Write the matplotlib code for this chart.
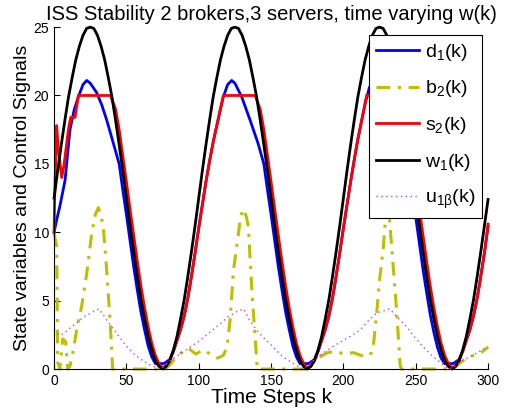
import matplotlib
matplotlib.use('Agg')
import matplotlib.pyplot as plt

# Data -----------------------------------------------------------------------------------------

k_w = [i * 2.5 for i in range(121)]
w1 = [12.5, 14.5, 16.4, 18.2, 19.9, 21.3, 22.6, 23.6, 24.4, 24.9, 25.0, 24.9, 24.4, 23.6, 22.6, 21.3,
      19.9, 18.2, 16.4, 14.5, 12.5, 10.5, 8.6, 6.8, 5.1, 3.7, 2.4, 1.4, 0.6, 0.2, 0.0, 0.2, 0.6, 1.4,
      2.4, 3.7, 5.1, 6.8, 8.6, 10.5,
      12.5, 14.5, 16.4, 18.2, 19.9, 21.3, 22.6, 23.6, 24.4, 24.9, 25.0, 24.9, 24.4, 23.6, 22.6, 21.3,
      19.9, 18.2, 16.4, 14.5, 12.5, 10.5, 8.6, 6.8, 5.1, 3.7, 2.4, 1.4, 0.6, 0.2, 0.0, 0.2, 0.6, 1.4,
      2.4, 3.7, 5.1, 6.8, 8.6, 10.5,
      12.5, 14.5, 16.4, 18.2, 19.9, 21.3, 22.6, 23.6, 24.4, 24.9, 25.0, 24.9, 24.4, 23.6, 22.6, 21.3,
      19.9, 18.2, 16.4, 14.5, 12.5, 10.5, 8.6, 6.8, 5.1, 3.7, 2.4, 1.4, 0.6, 0.2, 0.0, 0.2, 0.6, 1.4,
      2.4, 3.7, 5.1, 6.8, 8.6, 10.5,
      12.4]

k_d = [0, 2, 4, 7.6, 11, 14, 16.8, 20, 22.6, 25, 29.5, 33, 36.4, 41, 45, 47.5, 50, 52.5, 55, 57.5,
       60, 62.5, 65, 67.5, 70, 76,
       80, 82.5, 85, 87.5, 90, 92.5, 95, 97.5, 100, 102.5, 105, 107.5, 110, 112.5, 115, 117, 120,
       122.8, 125, 129.7, 135.5, 141, 145, 147.5, 150, 152.5, 155, 157.5, 160, 162.5, 165, 167.5,
       170, 176,
       180, 182.5, 185, 187.5, 190, 192.5, 195, 197.5, 200, 202.5, 205, 207.5, 210, 212.5, 215, 218,
       221.5, 225, 229, 235, 240, 245, 247.5, 250, 252.5, 255, 257.5, 260, 262.5, 265, 267.5, 270, 276,
       280, 282.5, 285, 287.5, 290, 292.5, 295, 297.5, 300]
d1 = [10.0, 11.0, 11.9, 13.8, 17.5, 19.0, 19.9, 20.8, 21.1, 20.9, 20.2, 19.3, 18.2, 16.5, 15.0, 13.1,
      11.3, 9.4, 7.5, 5.8, 4.2, 2.9, 1.7, 0.9, 0.4, 0.4,
      0.7, 1.3, 2.1, 2.9, 3.9, 5.2, 6.8, 8.5, 10.3, 12.0, 13.7, 15.2, 16.6, 17.8, 19.0, 19.9, 20.8,
      21.1, 20.9, 19.9, 18.2, 16.5, 15.0, 13.1, 11.3, 9.4, 7.5, 5.8, 4.2, 2.9, 1.7, 0.9, 0.4, 0.4,
      0.7, 1.3, 2.1, 2.9, 3.9, 5.2, 6.8, 8.5, 10.3, 12.0, 13.7, 15.3, 16.8, 18.1, 19.4, 20.6,
      21.1, 20.8, 19.9, 18.2, 16.5, 14.8, 12.9, 11.1, 9.2, 7.3, 5.6, 4.0, 2.7, 1.6, 0.8, 0.4, 0.4,
      0.7, 1.3, 2.1, 2.9, 3.9, 5.2, 6.8, 8.5, 10.4]

k_s = [0, 0.5, 1.8, 3, 5.3, 7, 9.9, 11.5, 14.5, 16.8, 39, 42.5, 45, 47.5, 50, 52.5, 55, 57.5, 60,
       62.5, 65, 67.5, 70, 72.5, 75, 77.5,
       80, 82.5, 85, 87.5, 90, 92.5, 95, 97.5, 100, 102.5, 105, 107.5, 110, 112.5, 115, 117, 139,
       142.5, 145, 147.5, 150, 152.5, 155, 157.5, 160, 162.5, 165, 167.5, 170, 172.5, 175, 177.5,
       180, 182.5, 185, 187.5, 190, 192.5, 195, 197.5, 200, 202.5, 205, 207.5, 210, 212.5, 215, 216,
       239, 242.5, 245, 247.5, 250, 252.5, 255, 257.5, 260, 262.5, 265, 267.5, 270, 272.5, 275, 277.5,
       280, 282.5, 285, 287.5, 290, 292.5, 295, 297.5, 300]
s2 = [10.0, 13.0, 17.8, 16.0, 14.0, 15.0, 17.5, 18.4, 18.4, 20.0, 20.0, 19.0, 17.5, 15.6, 13.7, 11.7,
      9.8, 7.9, 6.1, 4.5, 3.1, 1.9, 1.0, 0.4, 0.1, 0.2,
      0.7, 1.3, 2.1, 2.9, 3.9, 5.2, 6.8, 8.5, 10.3, 12.0, 13.7, 15.2, 16.6, 17.8, 19.0, 20.0, 20.0,
      19.0, 17.5, 15.6, 13.7, 11.7, 9.8, 7.9, 6.1, 4.5, 3.1, 1.9, 1.0, 0.4, 0.1, 0.2,
      0.7, 1.3, 2.1, 2.9, 3.9, 5.2, 6.8, 8.5, 10.3, 12.0, 13.7, 15.3, 16.8, 18.1, 19.4, 20.0,
      20.0, 19.0, 17.5, 15.6, 13.7, 11.7, 9.8, 7.9, 6.1, 4.5, 3.1, 1.9, 1.0, 0.4, 0.1, 0.2,
      0.7, 1.3, 2.1, 2.9, 3.9, 5.2, 6.8, 8.5, 10.6]

k_b = [0, 1.8, 2.5, 4, 6, 8, 9.5, 11, 13, 15.7, 19.1, 22.6, 26, 28.5, 30.6, 32.5, 34, 36.4, 38.7, 40.5,
       77, 80, 83, 88, 93, 98, 103, 108, 113, 117, 119.5, 121.7, 124, 127.4, 129, 131, 133, 134.3,
       136.6, 138.9, 140.5,
       176, 179, 184, 189, 195, 200, 207, 212, 216, 219.6, 221, 223, 225, 227.6, 229, 230.5, 232,
       233.4, 236.9, 239.2, 240,
       276, 280, 285, 290, 294.5, 300]
b2 = [9.9, 9.0, 0.5, 0.0, 2.2, 2.0, 0.0, 0.2, 1.2, 2.9, 4.6, 7.0, 9.9, 11.3, 11.8, 11.2, 10.4, 7.2, 3.6, 0.0,
      0.0, 0.3, 0.7, 1.2, 1.5, 1.1, 1.4, 1.1, 0.8, 1.0, 1.6, 3.6, 7.2, 9.9, 11.2, 11.7, 11.1, 10.4,
      6.0, 2.4, 0.0,
      0.0, 0.5, 0.9, 1.2, 1.3, 1.1, 1.2, 1.0, 0.9, 1.2, 2.0, 4.1, 6.5, 8.9, 10.8, 11.8, 10.8,
      8.9, 4.1, 0.3, 0.0,
      0.0, 0.4, 0.8, 1.0, 1.15, 1.6]

k_u = [0, 2, 4, 7, 11, 16, 20.3, 27.2, 31, 37, 43.3, 49, 54.8, 60, 66.4, 72, 74,
       80, 87, 94, 101, 105.5, 114.7, 120, 126.3, 131, 135, 140, 145.7, 151.6, 158, 165.4, 172,
       176, 183.9, 192, 200, 205, 211.5, 217, 223, 232, 238, 243.8, 249.5, 255.3, 261, 266.8, 273,
       277, 283, 291, 299, 300]
u1b = [2.9, 2.7, 2.5, 2.6, 3.0, 3.4, 3.8, 4.2, 4.4, 3.5, 2.6, 1.8, 1.15, 0.7, 0.3, 0.05, 0.0,
       0.6, 1.1, 1.6, 2.1, 2.5, 3.3, 3.8, 4.2, 4.4, 3.6, 2.85, 2.2, 1.6, 0.9, 0.4, 0.0,
       0.3, 1.0, 1.6, 2.1, 2.4, 2.85, 3.5, 4.1, 4.4, 3.7, 3.1, 2.3, 1.6, 1.0, 0.5, 0.0,
       0.2, 0.66, 1.1, 1.6, 1.65]

# Style ----------------------------------------------------------------------------------------

plt.rcParams['font.family'] = ['Liberation Sans', 'DejaVu Sans']
plt.rcParams['mathtext.fontset'] = 'custom'
plt.rcParams['mathtext.rm'] = 'Liberation Sans'
plt.rcParams['mathtext.it'] = 'Liberation Sans:italic'

fig = plt.figure(figsize=(5.1, 4.17), dpi=100)
ax = fig.add_axes([0.106, 0.115, 0.851, 0.820])

ax.plot(k_d, d1, color='#0000ff', lw=2, label=r'd$_1$(k)', clip_on=False)
ax.plot(k_b, b2, color='#bfbf00', lw=2.2, linestyle=(0, (4.5, 2.5, 1, 2.5)),
        label=r'b$_2$(k)', clip_on=False)
ax.plot(k_s, s2, color='#ff0000', lw=2, label=r's$_2$(k)', clip_on=False)
ax.plot(k_w, w1, color='black', lw=2, label=r'w$_1$(k)', clip_on=False)
ax.plot(k_u, u1b, color='#d040d0', lw=1, linestyle=(0, (1, 2.5)),
        label=r'u$_{\mathrm{1β}}$(k)', clip_on=False)

ax.set_xlim(0, 300)
ax.set_ylim(0, 25)
ax.set_xticks(range(0, 301, 50))
ax.set_yticks(range(0, 26, 5))
ax.tick_params(direction='in', labelsize=10, length=4, width=0.8)
ax.spines['top'].set_visible(False)
ax.spines['right'].set_visible(False)

ax.set_title('ISS Stability 2 brokers,3 servers, time varying w(k)', fontsize=14.5, pad=5)
ax.set_xlabel('Time Steps k', fontsize=15, labelpad=0)
ax.set_ylabel('State variables and Control Signals', fontsize=14, labelpad=2)

leg = ax.legend(loc='upper right', bbox_to_anchor=(0.945, 0.916), bbox_transform=fig.transFigure,
                borderaxespad=0, fontsize=14, fancybox=False, framealpha=1, edgecolor='black',
                handlelength=2.2, labelspacing=0.8, borderpad=0.35, handletextpad=0.3)
leg.get_frame().set_linewidth(0.8)

fig.savefig('out.png', dpi=100)
